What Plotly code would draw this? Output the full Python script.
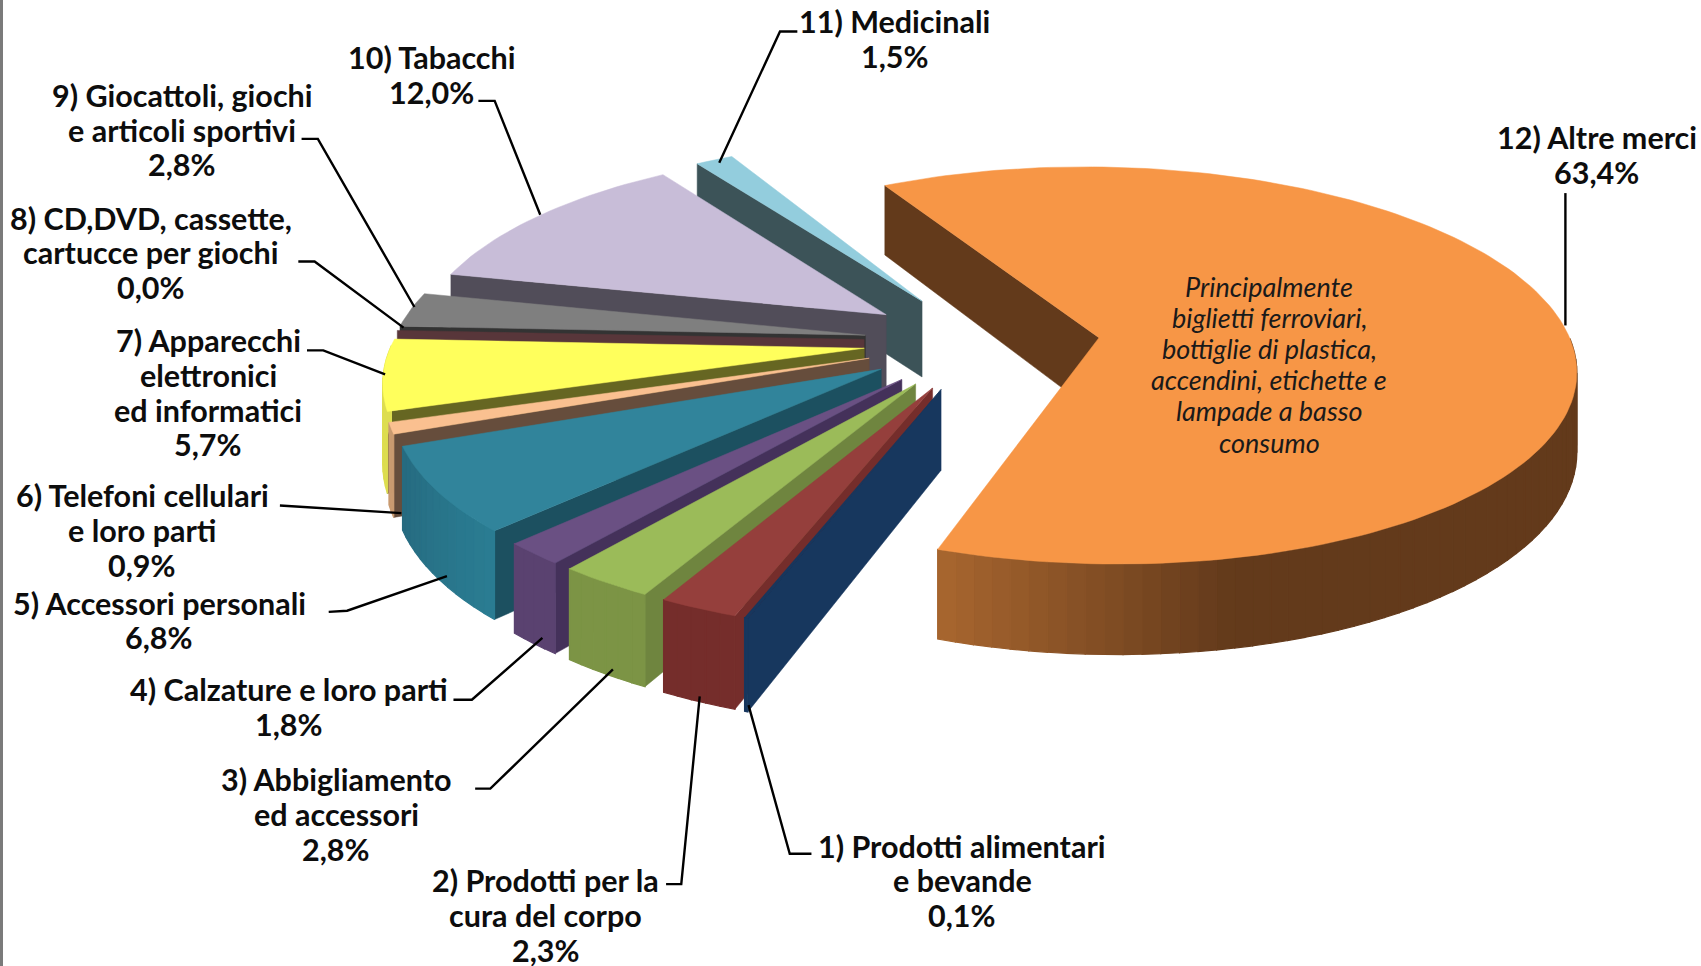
import numpy as np
import plotly.graph_objects as go

# ---------- data ----------
LABELS = ["1) Prodotti alimentari<br>e bevande", "2) Prodotti per la<br>cura del corpo",
          "3) Abbigliamento<br>ed accessori", "4) Calzature e loro parti",
          "5) Accessori personali", "6) Telefoni cellulari<br>e loro parti",
          "7) Apparecchi<br>elettronici<br>ed informatici", "8) CD,DVD, cassette,<br>cartucce per giochi",
          "9) Giocattoli, giochi<br>e articoli sportivi", "10) Tabacchi", "11) Medicinali", "12) Altre merci"]
VALUES = [0.1, 2.3, 2.8, 1.8, 6.8, 0.9, 5.7, 0.0, 2.8, 12.0, 1.5, 63.4]
VALUE_TEXT = ["0,1%", "2,3%", "2,8%", "1,8%", "6,8%", "0,9%", "5,7%", "0,0%", "2,8%", "12,0%", "1,5%", "63,4%"]
NOTE = "Principalmente<br>biglietti ferroviari,<br>bottiglie di plastica,<br>accendini, etichette e<br>lampade a basso<br>consumo"

# ---------- styles ----------
TOP = ["#17375E", "#953F3C", "#9BBB59", "#6A5083", "#31849B", "#FAC090", "#FFFF5C", "#7F7F7F",
       "#7F7F7F", "#C8BDD8", "#93CDDD", "#F79646"]
CUT = ["#17375E", "#752D2B", "#6F853F", "#44315A", "#1C5060", "#664D3C", "#666622", "#58363A",
       "#333333", "#514D59", "#3C5358", "#633A1B"]
WALL_A = ["#17375E", "#752D2B", "#7C9445", "#5A4270", "#2A7C92", "#C99A70", "#DDDD50", "#666666",
          "#666666", "#8E86A0", "#6FA0AC", "#A8662F"]
WALL_B = ["#17375E", "#752D2B", "#7C9445", "#5A4270", "#266B80", "#C99A70", "#DDDD50", "#666666",
          "#666666", "#8E86A0", "#6FA0AC", "#633A1B"]

S = 1701 / 1568
CX, CY = 905 * S, 315 * S      # disc centre
R, TILT, DEPTH, PERSP = 435 * S, 0.415, 72 * S, 0.14
PULL = 0.25
START = 199.3                  # clockwise from the top
PAGE_W, PAGE_H = 1701, 972     # a few pixels past the window so the last label's box is not clipped

# first-line centres of each label, in the shrunk picture's pixels
LABEL_POS = [(887, 779.5), (503, 811.5), (310, 718.5), (266, 635.5), (147, 555.5), (131, 456.5), (192, 313.5),
             (139, 200.5), (168, 87.5), (398, 52.5), (825, 19.5), (1472, 126.5)]
LINE_PITCH = 32 * S
NOTE_POS, NOTE_PITCH = (1170, 264), 28.7 * S
LEADERS = [[(748, 787), (728, 787), (690, 650)], [(614, 815), (628, 815), (645, 642)],
           [(438, 727), (452, 727), (565, 617)], [(418, 645), (435, 645), (500, 588)],
           [(303, 564), (320, 563), (412, 531)], [(258, 466), (370, 473)],
           [(283, 323), (298, 323), (355, 345)], [(275, 241), (290, 241), (372, 302)],
           [(278, 128), (293, 128), (382, 283)], [(441, 93), (456, 93), (498, 198)],
           [(735, 29), (719, 29), (663, 150)], [(1443, 178), (1443, 300)]]


def proj(u, v, z=0.0):
    p = 1 / (1 - PERSP * v)
    return CX + R * u * p, CY + R * TILT * v * p + DEPTH * z * p


def polar(a, r, mid):
    """Disc point at angle a (deg clockwise from top), radius r, for a slice pulled along mid."""
    ar, mr = np.radians(a), np.radians(mid)
    return PULL * np.sin(mr) + r * np.sin(ar), -PULL * np.cos(mr) - r * np.cos(ar)


def mix(c1, c2, t):
    a = [int(c1[i:i + 2], 16) for i in (1, 3, 5)]
    b = [int(c2[i:i + 2], 16) for i in (1, 3, 5)]
    return "#%02X%02X%02X" % tuple(round(x + (y - x) * t) for x, y in zip(a, b))


fig = go.Figure()


def poly(pts, color, name, lw=0.5):
    fig.add_trace(go.Scatter(x=[p[0] for p in pts] + [pts[0][0]], y=[p[1] for p in pts] + [pts[0][1]],
                             mode="lines", fill="toself", fillcolor=color,
                             line=dict(color=color, width=lw), hoverinfo="skip",
                             showlegend=False, name=name))


shares = np.array(VALUES) / sum(VALUES) * 360
bounds = START + np.concatenate([[0], np.cumsum(shares)])
# painter's order: rear slices first
order = [10, 9, 8, 7, 6, 5, 4, 3, 2, 1, 0, 11]
for i in order:
    a0, a1 = bounds[i], bounds[i + 1]
    mid = (a0 + a1) / 2
    tip = polar(a0, 0, mid)
    n = max(2, int((a1 - a0) / 1.5) + 2)
    angs = np.linspace(a0, a1, n)
    rim = [polar(a, 1, mid) for a in angs]
    # cut faces
    if -np.sin(np.radians(a0)) > 0:
        poly([proj(*tip), proj(*rim[0]), proj(*rim[0], 1), proj(*tip, 1)], CUT[i], f"cut {i}")
    if np.sin(np.radians(a1)) > 0:
        poly([proj(*tip), proj(*rim[-1]), proj(*rim[-1], 1), proj(*tip, 1)], CUT[i], f"cut {i}")
    # outer wall, split to carry the shading
    front = [a for a in np.linspace(a0, a1, max(2, int((a1 - a0) / 2) + 2)) if -np.cos(np.radians(a)) > -0.02]
    for k in range(len(front) - 1):
        p, q = polar(front[k], 1, mid), polar(front[k + 1], 1, mid)
        xm = proj(*polar((front[k] + front[k + 1]) / 2, 1, mid))[0]
        t = np.clip((xm - proj(*polar(a1, 1, mid))[0]) / (0.62 * R), 0, 1) if i == 11 else k / max(1, len(front) - 2)
        poly([proj(*p), proj(*q), proj(*q, 1), proj(*p, 1)], mix(WALL_A[i], WALL_B[i], t), f"wall {i}", lw=1.2)
    # top
    if VALUES[i] > 0:
        poly([proj(*tip)] + [proj(*r) for r in rim], TOP[i], f"slice {i}")

# leaders
lx, ly = [], []
for seg in LEADERS:
    lx += [p[0] * S for p in seg] + [None]
    ly += [p[1] * S for p in seg] + [None]
fig.add_trace(go.Scatter(x=lx, y=ly, mode="lines", line=dict(color="#000000", width=2.4),
                         hoverinfo="skip", showlegend=False))

for lab, val, (x, y) in zip(LABELS, VALUE_TEXT, LABEL_POS):
    for j, line in enumerate(lab.split("<br>") + [val]):
        fig.add_annotation(x=x * S, y=y * S + j * LINE_PITCH, text=f"<b>{line}</b>", showarrow=False,
                           xanchor="center", yanchor="middle", align="center",
                           font=dict(family="Lato", size=30.5, color="#0D0D0D"))
for j, line in enumerate(NOTE.split("<br>")):
    fig.add_annotation(x=NOTE_POS[0] * S, y=NOTE_POS[1] * S + j * NOTE_PITCH, text=f"<i>{line}</i>",
                       showarrow=False, xanchor="center", yanchor="middle", align="center",
                       font=dict(family="Lato", size=27, color="#1A1A1A"))

fig.add_shape(type="line", xref="x", yref="y", x0=1.5, x1=1.5, y0=0, y1=PAGE_H,
              line=dict(color="#7A7A7A", width=3))

fig.update_layout(width=PAGE_W, height=PAGE_H, margin=dict(l=0, r=0, t=0, b=0), autosize=False,
                  paper_bgcolor="white", plot_bgcolor="white", showlegend=False,
                  xaxis=dict(range=[0, PAGE_W], visible=False, fixedrange=True),
                  yaxis=dict(range=[PAGE_H, 0], visible=False, fixedrange=True))
fig.write_html("out.html", config=dict(displayModeBar=False),
               post_script="document.body.style.margin='0';document.documentElement.style.overflow='hidden';")
